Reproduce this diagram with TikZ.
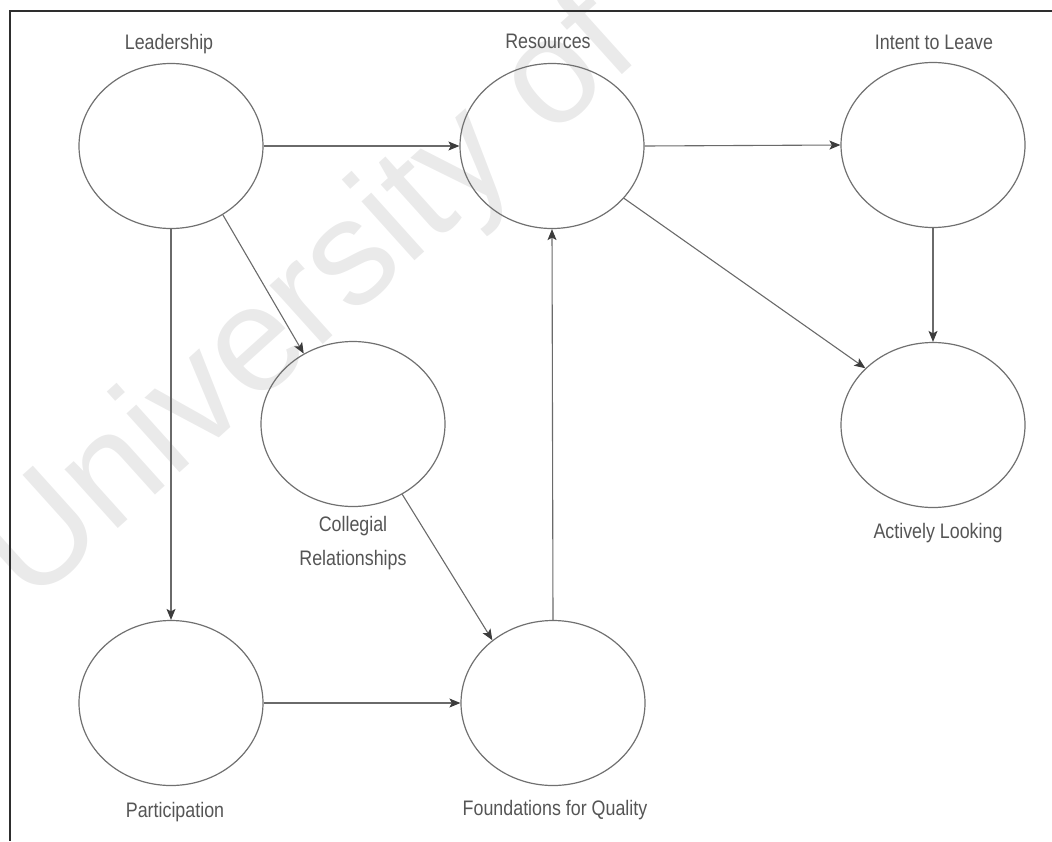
\documentclass[tikz,border=0pt]{standalone}
\usepackage{fontspec}
\setmainfont{Liberation Sans}
\newfontfamily\lblfont[FakeStretch=0.85]{Liberation Sans}
\usetikzlibrary{arrows.meta,shapes.geometric}
\definecolor{ringgray}{HTML}{707070}
\definecolor{linkgray}{HTML}{6A6A6A}
\definecolor{tipgray}{HTML}{3C3C3C}
\definecolor{labelgray}{HTML}{555555}
\definecolor{framegray}{HTML}{2E2E2E}
\definecolor{markgray}{HTML}{EAEAEA}
\begin{document}
\begin{tikzpicture}[x=1pt,y=-1pt,
  construct/.style={ellipse,draw=ringgray,line width=1.2pt,
    minimum width=184pt,minimum height=165pt,inner sep=0pt},
  caption/.style={font=\lblfont\fontsize{21}{34}\selectfont,text=labelgray,
    anchor=base,inner sep=0pt,align=center},
  link/.style={draw=linkgray,line width=1.1pt,
    -{Stealth[length=11pt,width=9pt,inset=2.5pt,color=tipgray]}},
  frameline/.style={draw=framegray,line width=1.4pt}]
\useasboundingbox (0,0) rectangle (1052,841);

% background mark
\node[font=\fontsize{150}{150}\selectfont,text=markgray,rotate=42,
  anchor=base west,inner sep=0pt] (mark) at (30,608) {University of};

% frame edges
\coordinate (ftop) at (10,11);
\coordinate (fright) at (1052,11);
\coordinate (fbottom) at (10,841);
\draw[frameline] (fright) -- (ftop) -- (fbottom);

% constructs
\node[construct] (lead)  at (171,146) {};
\node[construct] (res)   at (552,146) {};
\node[construct] (leave) at (933,145) {};
\node[construct] (coll)  at (353,424) {};
\node[construct] (look)  at (933,425) {};
\node[construct] (part)  at (171,703) {};
\node[construct] (found) at (553,703) {};

% captions
\node[caption] (leadlbl)  at (169,49)  {Leadership};
\node[caption] (reslbl)   at (548,48)  {Resources};
\node[caption] (leavelbl) at (934,49)  {Intent to Leave};
\node[caption,anchor=north] (colllbl) at (353,516) {Collegial\\Relationships};
\node[caption] (looklbl)  at (938,538) {Actively Looking};
\node[caption] (partlbl)  at (175,817) {Participation};
\node[caption] (foundlbl) at (555,815) {Foundations for Quality};

% paths
\draw[link] (lead.east) -- (res.west);
\draw[link] (res.east) -- (leave.west);
\draw[link] (lead.south) -- (part.north);
\draw[link] (lead.-53.5) -- (coll.125);
\draw[link] (coll.-55) -- (found.134);
\draw[link] (part.east) -- (found.west);
\draw[link] (found.north) -- (res.south);
\draw[link] (res.-36.5) -- (look.140);
\draw[link] (leave.south) -- (look.north);
\end{tikzpicture}
\end{document}
